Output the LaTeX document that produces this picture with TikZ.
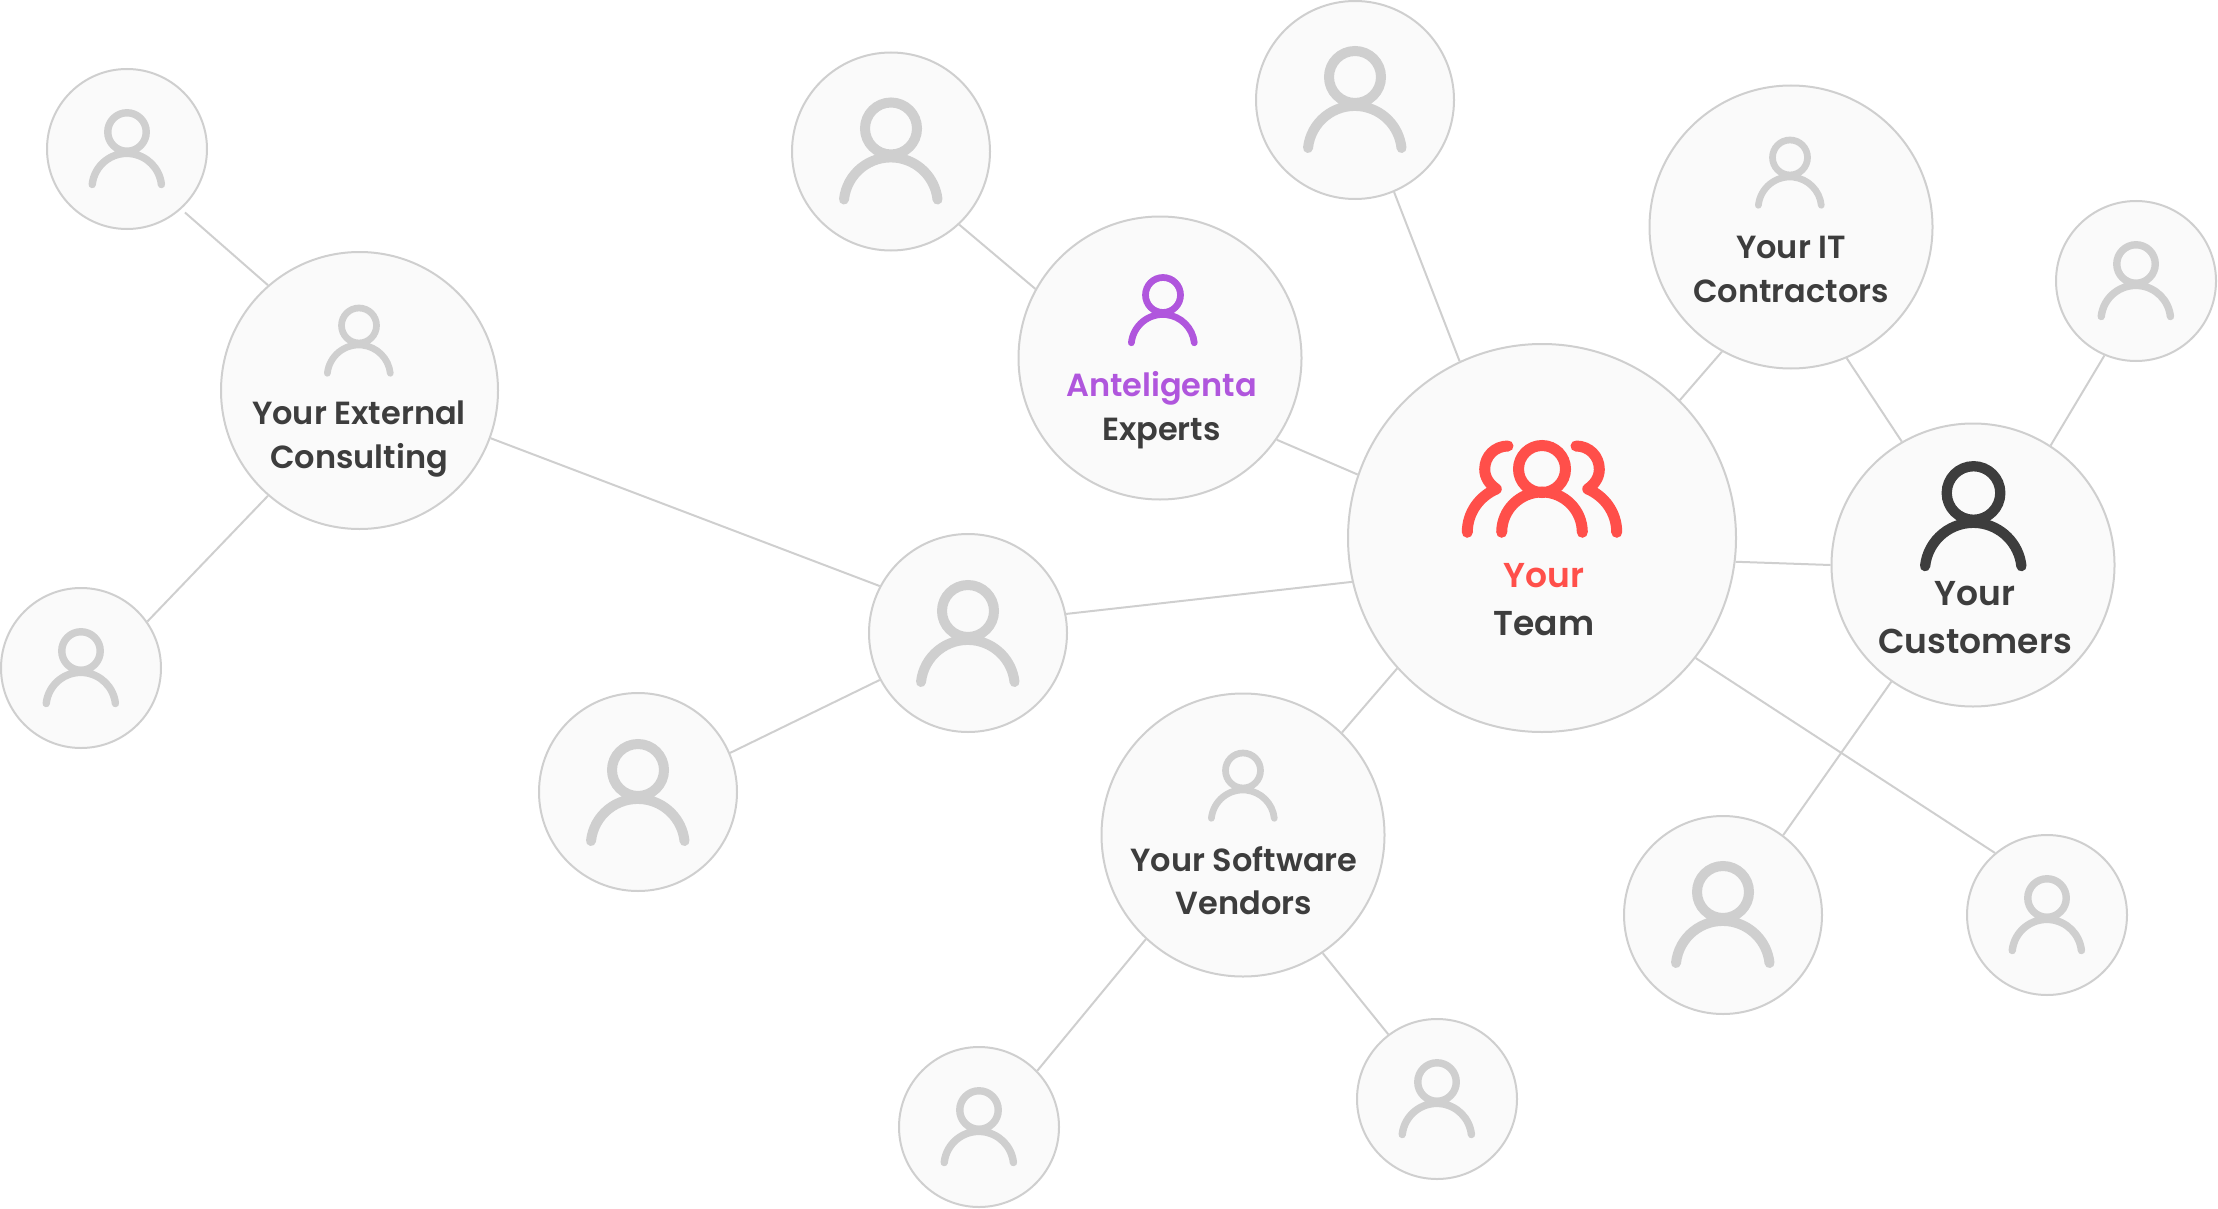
\documentclass[tikz,border=0pt]{standalone}
\usepackage{fontspec}
\setmainfont{Poppins}[UprightFont=* SemiBold]
\usepackage{xcolor}
\usetikzlibrary{positioning}
\definecolor{ringgray}{HTML}{CFCFCF}
\definecolor{discfill}{HTML}{FAFAFA}
\definecolor{inkdark}{HTML}{3D3D3D}
\definecolor{teamred}{HTML}{FF4F4A}
\definecolor{expertpurple}{HTML}{B056DD}

\begin{document}
\begin{tikzpicture}[
    x=1pt, y=-1pt,
    disc/.style={circle, draw=ringgray, fill=discfill, line width=2pt, inner sep=0pt},
    small/.style={disc, minimum size=160pt},
    medium/.style={disc, minimum size=198pt},
    large/.style={disc, minimum size=283pt},
    hub/.style={disc, minimum size=388pt},
    link/.style={draw=ringgray, line width=2pt},
    caption/.style={text=inkdark, align=center, font=\fontsize{32}{43.5}\selectfont},
    bigcaption/.style={text=inkdark, align=center, font=\fontsize{34.5}{47.5}\selectfont},
    pics/person/.style 2 args={code={
        \draw[#1, scale=#2, line width=#2*10pt, line cap=round] (0,0) circle [radius=26]
            (-47,71) arc [start angle=186, end angle=354, radius=47];
    }},
    pics/crowd/.style={code={
        \draw[teamred, line width=11pt, line cap=round] (0,0) circle [radius=23.5]
            (-40.3,63.3) arc [start angle=180, end angle=360, radius=40.3];
        \draw[teamred, line width=11pt, line cap=round, line join=round]
            (-34,-23) .. controls (-47,-23) and (-57.3,-13) .. (-57.3,0.3)
            .. controls (-57.3,8) and (-53,15) .. (-45.7,20)
            .. controls (-62,27) and (-74.7,43) .. (-74.7,63.3)
            (34,-23) .. controls (47,-23) and (57.3,-13) .. (57.3,0.3)
            .. controls (57.3,8) and (53,15) .. (45.7,20)
            .. controls (62,27) and (74.7,43) .. (74.7,63.3);
    }}
]
\useasboundingbox (0,0) rectangle (2218,1209);

% discs
\node[hub] (team) at (1542,538) {};
\node[large] (experts) at (1160,358) {};
\node[large] (itcontr) at (1791,227) {};
\node[large] (customers) at (1973,565) {};
\node[large] (software) at (1243,835) {};
\node[large, minimum size=277pt] (external) at (359.5,390.5) {};
\node[medium] (midperson) at (968,633) {};
\node[medium] (lowperson) at (638,792) {};
\node[medium] (topperson) at (1355,100) {};
\node[medium] (expertperson) at (891,151.5) {};
\node[medium] (brperson) at (1723,915) {};
\node[small] (extup) at (127,149) {};
\node[small] (extdown) at (81,668) {};
\node[small] (custup) at (2136,281) {};
\node[small] (teamdown) at (2047,915) {};
\node[small] (softleft) at (979,1127) {};
\node[small] (softright) at (1437,1099) {};

% links
\draw[link, shorten <=5pt] (extup.-48.5) -- (external.131.8);
\draw[link] (external.229.5) -- (extdown.35.9);
\draw[link] (external.-20.3) -- (midperson.152);
\draw[link] (lowperson.23.7) -- (midperson.208.7);
\draw[link] (midperson.11.5) -- (team.193.1);
\draw[link] (expertperson.-47.8) -- (experts.151.9);
\draw[link] (experts.-35) -- (team.161.7);
\draw[link] (topperson.-67.1) -- (team.115.3);
\draw[link] (itcontr.241.9) -- (team.45.6);
\draw[link] (itcontr.-67.2) -- (customers.120.9);
\draw[link] (custup.247) -- (customers.57);
\draw[link] (team.-7.5) -- (customers.180.6);
\draw[link] (team.222) -- (software.46.2);
\draw[link] (software.227.8) -- (softleft.44.3);
\draw[link] (software.-56.8) -- (softright.127);
\draw[link] (customers.235.8) -- (brperson.53);
\draw[link] (team.-38.9) -- (teamdown.130);

% icons
\pic at ([shift={(0,-69)}]team) {crowd};
\pic at ([shift={(0.5,-72)}]customers) {person={inkdark}{1.03}};
\pic at ([shift={(3,-63)}]experts) {person={expertpurple}{0.673}};
\pic at ([shift={(-1,-69.5)}]itcontr) {person={ringgray}{0.673}};
\pic at ([shift={(0,-64.5)}]software) {person={ringgray}{0.673}};
\pic at ([shift={(-0.5,-65)}]external) {person={ringgray}{0.673}};
\pic at ([shift={(0,-22)}]midperson) {person={ringgray}{1}};
\pic at ([shift={(0,-22)}]lowperson) {person={ringgray}{1}};
\pic at ([shift={(0,-23)}]topperson) {person={ringgray}{1}};
\pic at ([shift={(0,-23)}]expertperson) {person={ringgray}{1}};
\pic at ([shift={(0,-23)}]brperson) {person={ringgray}{1}};
\pic at ([shift={(0,-17)}]extup) {person={ringgray}{0.74}};
\pic at ([shift={(0,-17)}]extdown) {person={ringgray}{0.74}};
\pic at ([shift={(0,-17)}]custup) {person={ringgray}{0.74}};
\pic at ([shift={(0,-17)}]teamdown) {person={ringgray}{0.74}};
\pic at ([shift={(0,-17)}]softleft) {person={ringgray}{0.74}};
\pic at ([shift={(0,-17)}]softright) {person={ringgray}{0.74}};

% captions
\node[bigcaption] (teamtext) at ([shift={(2,61.5)}]team) {\textcolor{teamred}{Your}\\Team};
\node[bigcaption] (customerstext) at ([shift={(2,52.5)}]customers) {Your\\Customers};
\node[caption] (expertstext) at ([shift={(1.5,52)}]experts) {\textcolor{expertpurple}{Anteligenta}\\Experts};
\node[caption] (itcontrtext) at ([shift={(0,42.5)}]itcontr) {Your IT\\Contractors};
\node[caption] (softwaretext) at ([shift={(1,45.5)}]software) {Your Software\\Vendors};
\node[caption] (externaltext) at ([shift={(-0.5,48.5)}]external) {Your External\\Consulting};
\end{tikzpicture}
\end{document}
